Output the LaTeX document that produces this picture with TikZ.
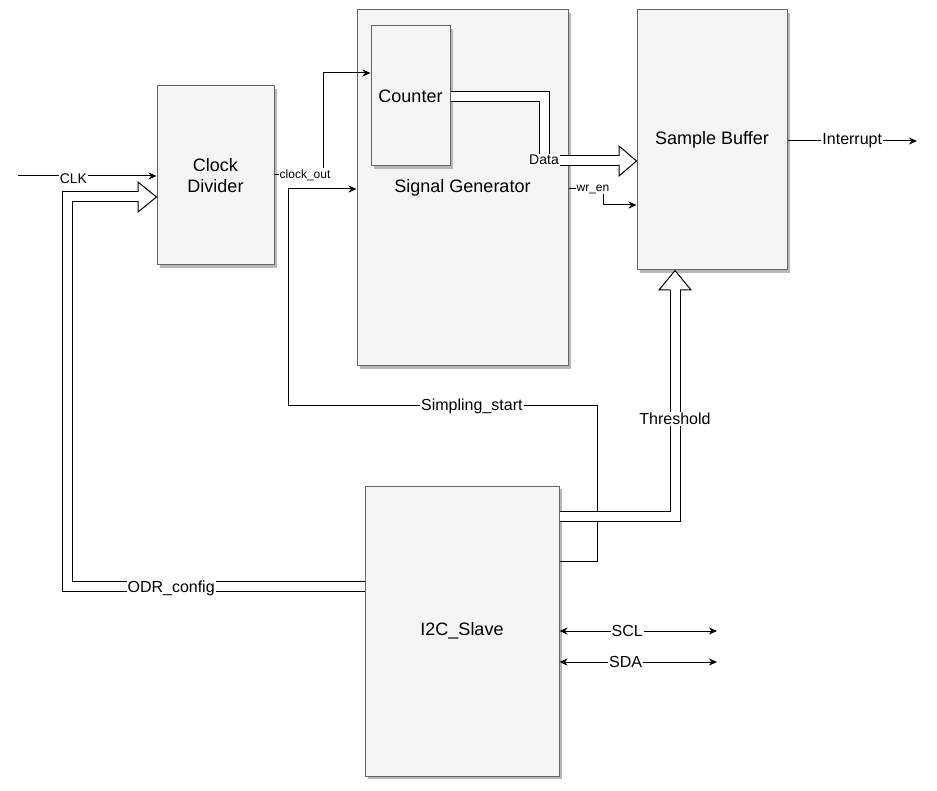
\documentclass[tikz,border=0pt]{standalone}
\usepackage{fontspec}
\setmainfont{Liberation Sans}
\usetikzlibrary{arrows.meta,shadows}
\definecolor{boxfill}{HTML}{F5F5F5}
\definecolor{boxline}{HTML}{666666}
\begin{document}
\begin{tikzpicture}[x=1pt,y=-1pt,
  block/.style={draw=boxline, fill=boxfill, line width=1pt, inner sep=0pt,
    align=center, font=\fontsize{18}{21}\selectfont,
    drop shadow={shadow xshift=3pt, shadow yshift=-3pt, fill=black!28, opacity=1}},
  sig/.style={draw, line width=1pt, -{Stealth[length=8pt,width=7pt,inset=2.5pt]}},
  sigboth/.style={draw, line width=1pt, {Stealth[length=8pt,width=7pt,inset=2.5pt]}-{Stealth[length=8pt,width=7pt,inset=2.5pt]}},
  bus/.style={draw, line width=1pt, double=white, double distance=9pt},
  bushead/.style={draw, line width=1pt, fill=white, line join=miter},
  lbl/.style={fill=white, inner sep=1pt, font=\fontsize{16}{18}\selectfont},
  lblmid/.style={fill=white, inner sep=1pt, font=\fontsize{14}{16}\selectfont},
  lblsmall/.style={fill=white, inner sep=1pt, font=\fontsize{12}{14}\selectfont}]
\useasboundingbox (0,0) rectangle (937,791);

% blocks
\node[block, minimum width=117pt, minimum height=179pt] (clkdiv) at (215.5,175.5) {Clock\\Divider};
\node[block, minimum width=211pt, minimum height=356pt] (siggen) at (462.5,188) {Signal Generator};
\node[block, minimum width=79pt, minimum height=140pt] (counter) at (410.5,96) {Counter};
\node[block, minimum width=150pt, minimum height=260pt] (buffer) at (712,140) {Sample Buffer};
\node[block, minimum width=194pt, minimum height=290pt] (i2c) at (462,631) {I2C\_Slave};

% free ends
\coordinate (clkin) at (18,176);
\coordinate (intout) at (917,141);
\coordinate (sclout) at (717,631);
\coordinate (sdaout) at (717,662);

% clock input
\draw[sig] (clkin) -- node[lblmid, pos=0.4, yshift=-3pt] {CLK} (clkdiv.west |- clkin);

% ODR configuration bus
\draw[bus] (i2c.west |- 0,586) -- node[lbl, pos=0.65, yshift=-2pt] {ODR\_config} (67,586) -- (67,196.5) -- (138,196.5);
\draw[bushead] (138,192) -- (138,182) -- (clkdiv.west |- 0,197) -- (138,212) -- (138,201);

% divided clock to the counter
\draw[sig] (clkdiv.east |- 0,175) -- node[lblsmall, pos=0.63] {clock\_out} (323,175) -- (323,73) -- (counter.west |- 0,73);

% sampling start
\draw[sig] (i2c.east |- 0,561) -- (597,561) -- (597,406) -- node[lbl, pos=0.405] {Simpling\_start} (288,406) -- (288,189) -- (siggen.west |- 0,189);

% counter data bus
\draw[bus] (counter.east |- 0,97) -- (544,97) -- (544,160.5) -- (619,160.5);
\draw[bushead] (619,156) -- (619,146) -- (buffer.west |- 0,161) -- (619,176) -- (619,165);
\node[lblmid] (datalbl) at (544,160) {Data};

% write enable
\draw[sig] (siggen.east |- 0,189) -- (603,189) -- (603,205) -- (buffer.west |- 0,205);
\node[lblsmall] (wrenlbl) at (593,189) {wr\_en};

% threshold bus
\draw[bus] (i2c.east |- 0,516) -- (675,516) -- node[lbl, pos=0.43] {Threshold} (675,290);
\draw[bushead] (670,290) -- (659,290) -- (675,0 |- buffer.south) -- (691,290) -- (680,290);

% interrupt output
\draw[sig] (buffer.east |- intout) -- node[lbl] {Interrupt} (intout);

% I2C lines
\draw[sigboth] (i2c.east |- sclout) -- node[lbl, pos=0.43] {SCL} (sclout);
\draw[sigboth] (i2c.east |- sdaout) -- node[lbl, pos=0.42] {SDA} (sdaout);
\end{tikzpicture}
\end{document}
